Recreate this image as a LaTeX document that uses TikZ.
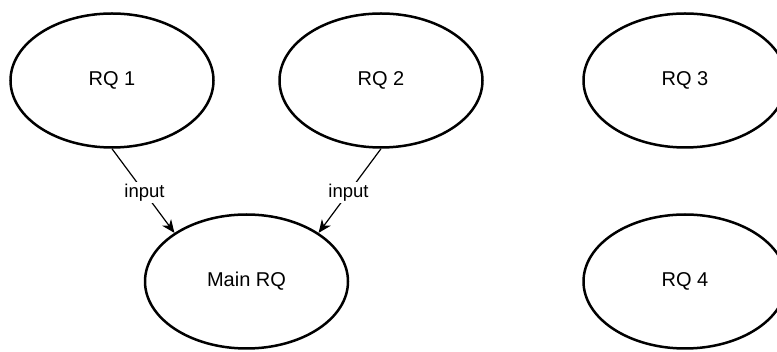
\documentclass[tikz,border=0pt]{standalone}
\usepackage{fontspec}
\setmainfont{Liberation Sans}
\usetikzlibrary{shapes.geometric,arrows.meta}
\begin{document}
\begin{tikzpicture}[x=1pt,y=-1pt,
  rq/.style={ellipse,draw=black,line width=2.5pt,minimum width=203pt,minimum height=134pt,inner sep=0pt,font=\fontsize{20}{24}\selectfont},
  conn/.style={line width=1.2pt,-{Stealth[length=13pt,width=11pt,inset=4pt]}},
  lbl/.style={fill=white,inner sep=1.5pt,font=\fontsize{18.5}{22}\selectfont}]
\useasboundingbox (0,0) rectangle (777,352);
\clip (0,0) rectangle (777,352);
\node[rq] (rq1) at (112,80.5) {RQ 1};
\node[rq] (rq2) at (381,80.5) {RQ 2};
\node[rq] (rq3) at (685,80.5) {RQ 3};
\node[rq] (main) at (246.5,281.5) {Main RQ};
\node[rq] (rq4) at (685,281.5) {RQ 4};
\draw[conn] (rq1.south) -- node[lbl,pos=0.52] {input} (main.146);
\draw[conn] (rq2.south) -- node[lbl,pos=0.52] {input} (main.34);
\end{tikzpicture}
\end{document}
